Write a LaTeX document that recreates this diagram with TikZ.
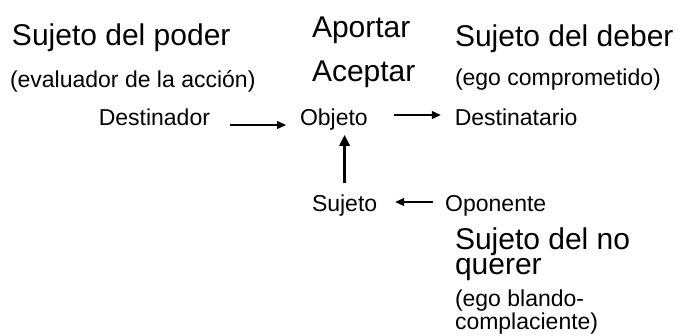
\documentclass[tikz,border=0pt]{standalone}
\usepackage{fontspec}
\setmainfont{Liberation Sans}
\usetikzlibrary{arrows.meta,positioning}

\begin{document}
\begin{tikzpicture}[x=1pt, y=1pt,
  big/.style={inner sep=0pt, outer sep=0pt, font=\fontsize{30}{25}\selectfont, align=left},
  small/.style={inner sep=0pt, outer sep=0pt, font=\fontsize{23}{20}\selectfont, align=left},
  arrow/.style={-{Triangle[length=9pt, width=8pt]}, line width=1.3pt},
  thickarrow/.style={-{Triangle[length=11pt, width=10pt]}, line width=2.8pt}]
\useasboundingbox (0,0) rectangle (680,-335);
\node[small, anchor=base west] (objeto) at (300,-125) {Objeto};
\node[small, base left=90pt of objeto] (destinador) {Destinador};
\node[small, base right=87pt of objeto] (destinatario) {Destinatario};
\node[small, anchor=base west] (sujeto) at (312,-211) {Sujeto};
\node[small, base right=68pt of sujeto] (oponente) {Oponente};
\node[big, anchor=base west] (poder) at (12,-45) {Sujeto del poder};
\node[small, anchor=base west] (evaluador) at (10,-87) {(evaluador de la acción)};
\node[big, anchor=base west] (aportar) at (312,-37) {Aportar};
\node[big, anchor=base west] (aceptar) at (312,-81) {Aceptar};
\node[big, anchor=base west] (deber) at (455,-46) {Sujeto del deber};
\node[small, anchor=base west] (comprometido) at (455,-85) {(ego comprometido)};
\node[big, anchor=north west] (noquerer) at (455,-228) {Sujeto del no\\querer};
\node[small, anchor=north west] (blando) at (455,-290) {(ego blando-\\complaciente)};
\draw[arrow, shorten <=20pt, shorten >=14pt] (destinador.base east) -- (objeto.base west);
\draw[arrow, shorten <=26pt, shorten >=14pt] ([yshift=10pt]objeto.base east) -- ([yshift=10pt]destinatario.base west);
\draw[thickarrow, shorten <=11pt, shorten >=5pt] (sujeto.north) -- (sujeto.north |- objeto.south);
\draw[arrow, shorten <=12pt, shorten >=18pt] ([yshift=9pt]oponente.base west) -- ([yshift=9pt]sujeto.base east);
\end{tikzpicture}
\end{document}
